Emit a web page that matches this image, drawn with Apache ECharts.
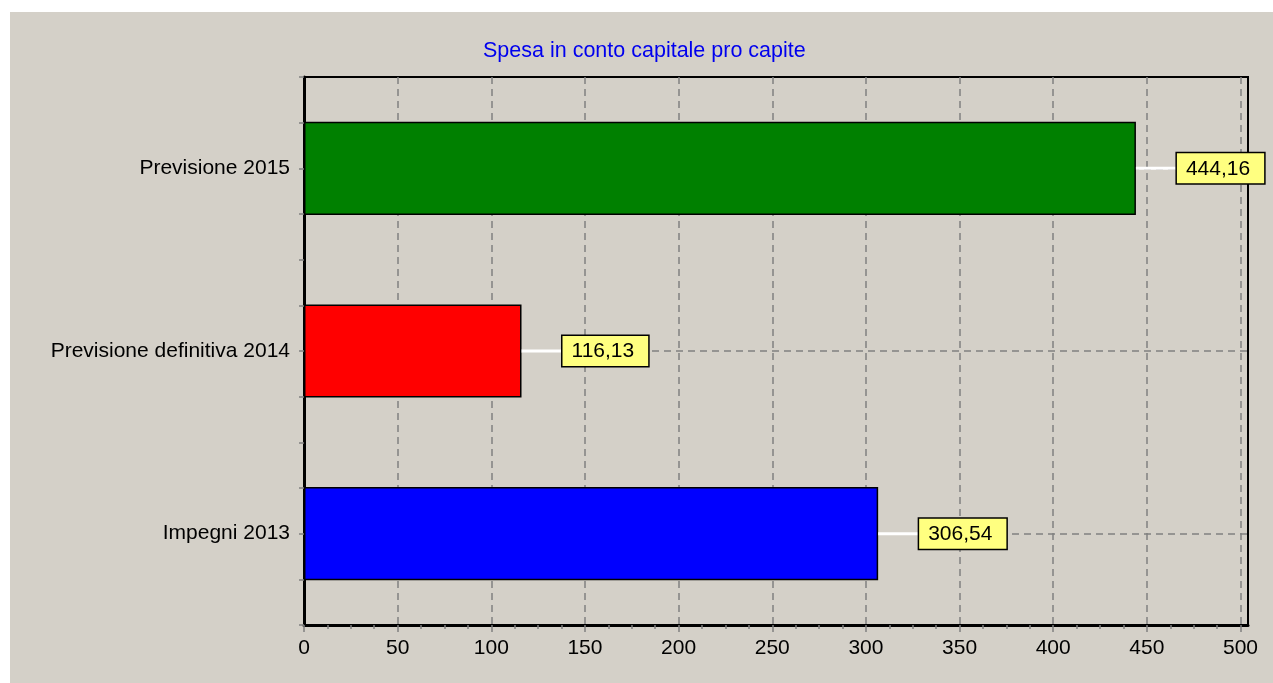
<!DOCTYPE html>
<html>
<head>
<meta charset="utf-8">
<script src="https://cdn.jsdelivr.net/npm/echarts@6/dist/echarts.min.js"></script>
<style>
html,body{margin:0;padding:0;background:#fff;}
#chart{width:1273px;height:683px;background:linear-gradient(#d4d0c8,#d4d0c8) 10px 12px / 100% 100% no-repeat,#fff;}
</style>
</head>
<body>
<div id="chart"></div>
<script>
// ---- data ----
var titleText = 'Spesa in conto capitale pro capite';
var categories = ['Impegni 2013', 'Previsione definitiva 2014', 'Previsione 2015'];
var values = [306.54, 116.13, 444.16];
var xTicks = [0, 50, 100, 150, 200, 250, 300, 350, 400, 450, 500];
var xMax = 504;
// ---- styles ----
var barColors = ['#0000ff', '#ff0000', '#008000'];
var FONT = '"Liberation Sans", Arial, sans-serif';

function fmt(v) { return v.toFixed(2).replace('.', ','); }

var chart = echarts.init(document.getElementById('chart'), null, {renderer: 'canvas'});
chart.setOption({
  animation: false,
  backgroundColor: 'transparent',
  title: {
    text: titleText,
    left: 483, top: 40, padding: 0,
    textStyle: {color: '#0000ee', fontSize: 21.5, fontWeight: 'normal', fontFamily: FONT}
  },
  grid: {
    left: 304, right: 25, top: 77, bottom: 58,
    show: true, borderColor: '#000', borderWidth: 2, backgroundColor: 'transparent'
  },
  xAxis: {
    type: 'value', min: 0, max: xMax, interval: 50,
    axisLine: {show: true, lineStyle: {color: '#000', width: 3}},
    axisTick: {show: true, length: 7, customValues: xTicks, lineStyle: {color: '#808080', width: 1.5}},
    minorTick: {show: true, splitNumber: 4, length: 4, lineStyle: {color: '#808080', width: 1.5}},
    axisLabel: {customValues: xTicks, margin: 13, color: '#000', fontSize: 21, fontFamily: FONT},
    splitLine: {show: true, lineStyle: {color: '#808080', width: 1.5, type: [7, 5]}}
  },
  yAxis: [{
    type: 'category', data: categories,
    axisLine: {show: true, lineStyle: {color: '#000', width: 3}},
    axisTick: {show: false},
    axisLabel: {margin: 14, color: '#000', fontSize: 21, fontFamily: FONT},
    splitLine: {show: false}
  }, {
    type: 'value', min: 0, max: categories.length * 4, interval: 1, position: 'left', offset: 0,
    axisLine: {show: false},
    axisTick: {show: true, length: 5, lineStyle: {color: '#808080', width: 1.5}},
    axisLabel: {show: false},
    splitLine: {show: false}
  }],
  series: [{
    type: 'bar',
    yAxisIndex: 0,
    barWidth: '51%',
    data: values.map(function (v, i) {
      return {value: v, itemStyle: {color: barColors[i]}};
    }),
    itemStyle: {borderColor: '#000', borderWidth: 1.5},
    label: {
      show: true, position: 'right', distance: 0,
      formatter: function (p) { return '{line|}{box|' + fmt(p.value) + '}'; },
      rich: {
        line: {width: 41, height: 3, backgroundColor: '#ffffff'},
        box: {
          backgroundColor: '#ffff80', borderColor: '#000', borderWidth: 1.5,
          padding: [5, 14, 4, 9], color: '#000', fontSize: 21, fontFamily: FONT
        }
      }
    },
    markLine: {
      silent: true, z: 1, symbol: 'none',
      label: {show: false},
      lineStyle: {color: '#808080', width: 1.5, type: [7, 5]},
      data: categories.map(function (c) { return {yAxis: c}; })
    }
  }]
});
</script>
</body>
</html>
